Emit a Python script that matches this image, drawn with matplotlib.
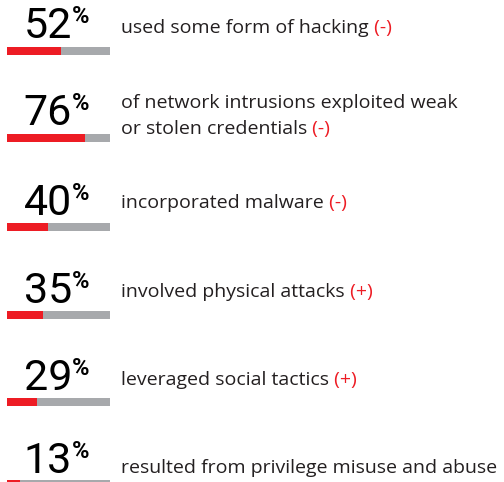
import matplotlib
matplotlib.use('Agg')
import matplotlib.pyplot as plt

# 数据
percents = [52, 76, 40, 35, 29, 13]
labels = [
    "used some form of hacking",
    "of network intrusions exploited weak\nor stolen credentials",
    "incorporated malware",
    "involved physical attacks",
    "leveraged social tactics",
    "resulted from privilege misuse and abuse",
]
trends = ["(-)", "(-)", "(-)", "(+)", "(+)", ""]

# 版式（像素坐标）
bar_tops = [47, 134, 223, 311, 398, 480]
num_baselines = [38, 125, 215, 303, 390, 473]
text_baselines = [33, 108, 208, 297, 385, 473]
bar_left, bar_len, bar_h = 7, 103, 7.5
line_gap = 26

RED = '#ED1C24'
GRAY = '#A7A9AC'
INK = '#231F20'

fig = plt.figure(figsize=(5.04, 4.82), dpi=100)
ax = fig.add_axes([0, 0, 1, 1])
ax.set_xlim(0, 504)
ax.set_ylim(482, 0)
ax.axis('off')

for i, pct in enumerate(percents):
    yc = bar_tops[i] + bar_h / 2
    ax.barh(yc, bar_len, left=bar_left, height=bar_h, color=GRAY, linewidth=0)
    ax.barh(yc, bar_len * pct / 100, left=bar_left, height=bar_h, color=RED, linewidth=0)

    # 大号数字 + 百分号
    ax.text(72, num_baselines[i], str(pct), ha='right', va='baseline',
            fontsize=31, family='Roboto', color='black')
    ax.text(72, num_baselines[i] - 15, '%', ha='left', va='baseline',
            fontsize=17, family='Roboto', fontweight='bold', color='black')

    # 说明文字
    lines = labels[i].split('\n')
    for j, line in enumerate(lines):
        t = ax.text(121, text_baselines[i] + j * line_gap, line, ha='left',
                    va='baseline', fontsize=14, family='Open Sans', color=INK)
    if trends[i]:
        ax.annotate(' ' + trends[i], xy=(1, 0), xycoords=t, ha='left', va='bottom',
                    fontsize=14, family='Open Sans', color=RED)

fig.savefig('out.png', dpi=100)
